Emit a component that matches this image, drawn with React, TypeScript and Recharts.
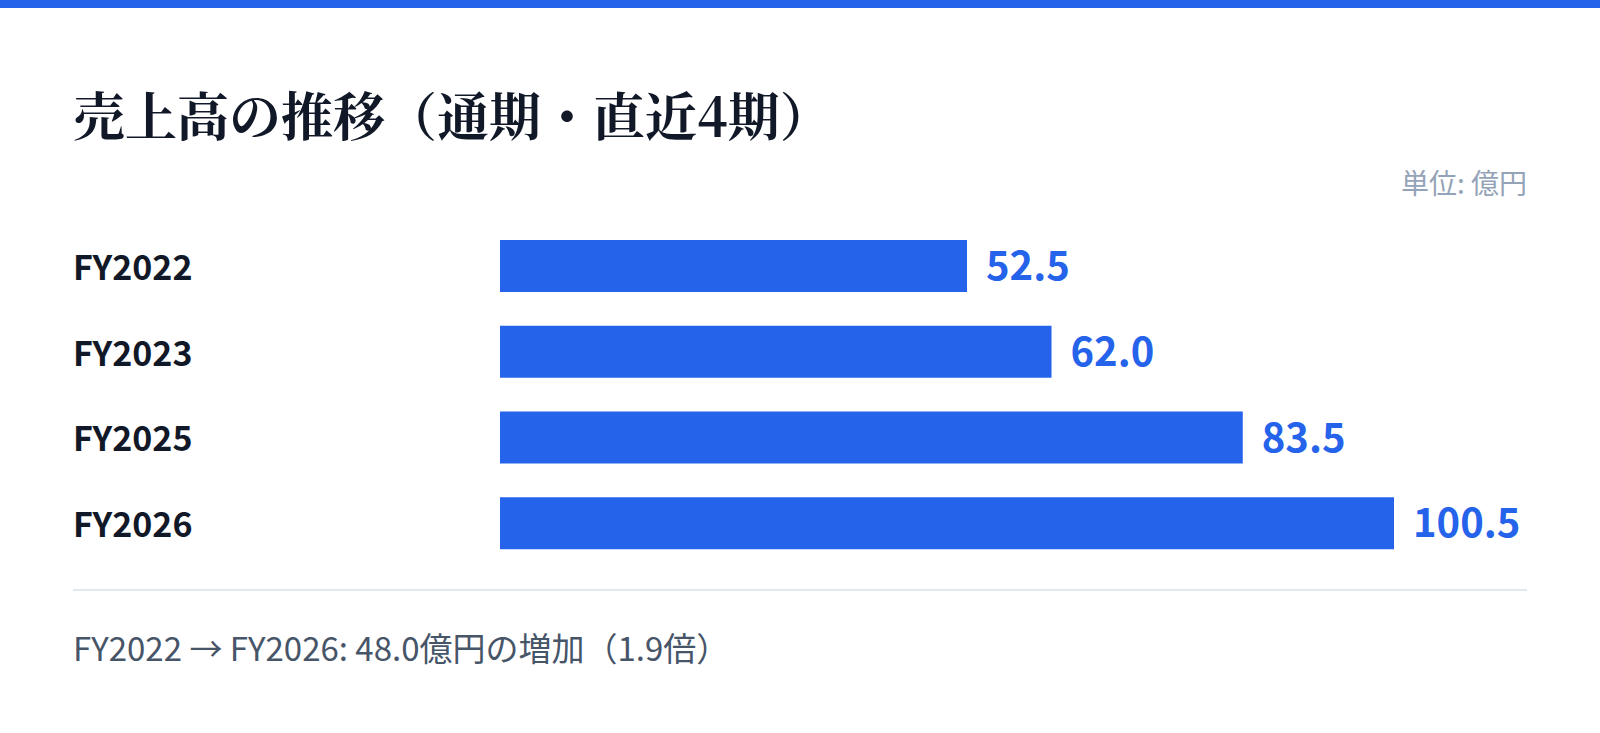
import React from "react";
import { BarChart, Bar, XAxis, YAxis, LabelList } from "recharts";

const categories = ["FY2022", "FY2023", "FY2025", "FY2026"];
const sales = [52.5, 62.0, 83.5, 100.5];

const data = categories.map((name, i) => ({ name, sales: sales[i] }));

const BLUE = "#2563eb";
const SANS = "'Noto Sans CJK JP', 'Noto Sans', sans-serif";

function CategoryTick({ y, payload }: any) {
  return (
    <text
      x={73}
      y={y}
      dy={14}
      textAnchor="start"
      fontFamily={SANS}
      fontSize={34}
      fontWeight={700}
      fill="#111827"
    >
      {payload.value}
    </text>
  );
}

export default function App() {
  return (
    <div
      style={{
        position: "absolute",
        top: 0,
        left: 0,
        width: 1600,
        height: 733,
        background: "#fff",
        fontFamily: SANS,
        overflow: "hidden",
      }}
    >
      <div style={{ height: 8, background: BLUE }} />

      <div
        style={{
          position: "absolute",
          left: 73,
          top: 82,
          fontFamily: "'Noto Serif CJK JP', serif",
          fontWeight: 700,
          fontSize: 52,
          lineHeight: "64px",
          color: "#111827",
          whiteSpace: "nowrap",
        }}
      >
        売上高の推移（通期・直近4期）
      </div>

      <div
        style={{
          position: "absolute",
          right: 73,
          top: 163,
          fontSize: 28,
          lineHeight: "38px",
          color: "#94a3b8",
        }}
      >
        単位: 億円
      </div>

      <div style={{ position: "absolute", left: 0, top: 0 }}>
        <BarChart
          width={1600}
          height={733}
          data={data}
          layout="vertical"
          margin={{ top: 223, right: 206, bottom: 167, left: 72 }}
        >
          <XAxis type="number" hide domain={[0, "dataMax"]} />
          <YAxis
            type="category"
            dataKey="name"
            width={428}
            axisLine={false}
            tickLine={false}
            tick={<CategoryTick />}
          />
          <Bar dataKey="sales" fill={BLUE} barSize={52} isAnimationActive={false}>
            <LabelList
              dataKey="sales"
              position="right"
              offset={19}
              formatter={(v: any) => Number(v).toFixed(1)}
              style={{ fontFamily: SANS, fontSize: 40, fontWeight: 700, fill: BLUE }}
            />
          </Bar>
        </BarChart>
      </div>

      <div
        style={{
          position: "absolute",
          left: 73,
          top: 589,
          width: 1454,
          height: 2,
          background: "#e2e8f0",
        }}
      />

      <div
        style={{
          position: "absolute",
          left: 73,
          top: 625,
          fontSize: 33,
          lineHeight: "44px",
          color: "#475569",
          whiteSpace: "nowrap",
        }}
      >
        FY2022 → FY2026: 48.0億円の増加（1.9倍）
      </div>
    </div>
  );
}
